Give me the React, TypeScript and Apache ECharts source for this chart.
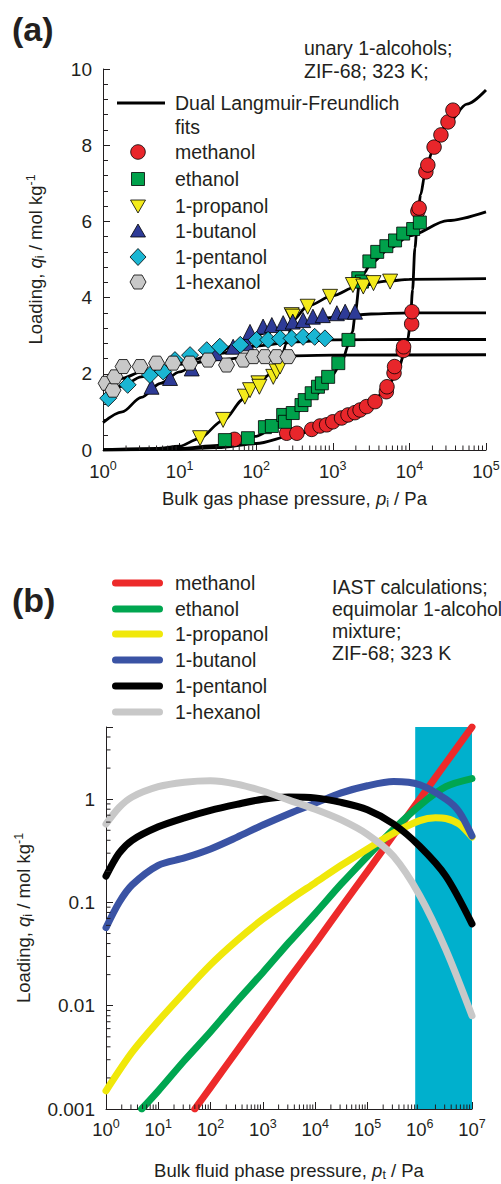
import React, { useEffect, useRef } from "react";
import * as echarts from "echarts";

const FONT = "'Liberation Sans', Arial, Helvetica, sans-serif";
const INK = "#231f20";

// ---------- Panel (a): unary isotherms, [pressure / Pa, loading / mol kg-1] ----------
const methanolPts = [
  [52, 0.28], [250, 0.44], [340, 0.44], [530, 0.54], [680, 0.63], [830, 0.66], [1000, 0.74],
  [1300, 0.84], [1580, 0.92], [1940, 0.98], [2270, 1.05], [2760, 1.14], [3560, 1.27],
  [5000, 1.53], [5100, 1.66], [6300, 2.02], [6400, 2.19], [8300, 2.61], [8400, 2.71],
  [10700, 3.31], [10800, 3.63], [12900, 6.27], [13400, 6.35], [16400, 7.3], [17400, 7.48],
  [21000, 7.95], [25800, 8.27], [31900, 8.61], [37000, 8.92],
];
const ethanolPts = [
  [39, 0.26], [78, 0.31], [130, 0.6], [160, 0.63], [225, 0.92], [237, 0.74], [300, 0.97],
  [390, 1.18], [430, 1.31], [530, 1.49], [640, 1.66], [720, 1.75], [870, 1.92], [1180, 2.28],
  [1600, 2.89], [2150, 4.51], [2400, 4.42], [3000, 4.95], [3800, 5.2], [5000, 5.35],
  [6500, 5.5], [8300, 5.68], [11200, 5.8], [13700, 5.97],
];
const propanolPts = [
  [18.5, 0.31], [37, 0.79], [71, 1.4], [83, 1.57], [107, 1.75], [110, 1.66], [167, 1.92],
  [185, 2.06], [205, 2.19], [290, 3.54], [300, 3.5], [470, 3.76], [920, 4.02], [1830, 4.33],
  [2500, 4.29], [3400, 4.38], [5600, 4.42],
];
const butanolPts = [
  [4.3, 1.66], [7.5, 1.89], [14.4, 2.14], [30, 2.54], [50, 2.71], [75, 2.8], [83, 3.1],
  [123, 3.24], [160, 3.28], [225, 3.33], [300, 3.37], [410, 3.41], [550, 3.5], [740, 3.54],
  [1130, 3.59], [1450, 3.63], [1950, 3.63],
];
const pentanolPts = [
  [1.17, 1.36], [2.1, 1.71], [4.1, 1.97], [6.1, 2.06], [8.7, 2.36], [13.7, 2.49], [22.6, 2.62],
  [33.5, 2.71], [62, 2.76], [101, 2.89], [143, 2.89], [205, 2.93], [290, 2.93], [410, 2.97],
  [580, 2.97], [790, 2.93],
];
const hexanolPts = [
  [1.1, 1.75], [1.35, 1.57], [1.43, 1.92], [1.83, 2.19], [3.05, 2.19], [5, 2.28], [8.2, 2.28],
  [13.6, 2.28], [23.5, 2.36], [41, 2.23], [68, 2.36], [92, 2.45], [130, 2.45], [185, 2.45],
  [260, 2.45],
];

// Dual Langmuir-Freundlich fits
const fitMethanol = [
  [1, 0], [10, 0.02], [31.6, 0.06], [100, 0.17], [316, 0.39], [1000, 0.72], [2000, 0.98],
  [3160, 1.22], [5000, 1.6], [7000, 2.05], [8500, 2.5], [9500, 2.9], [10200, 3.25], [11000, 4.2],
  [11800, 5.3], [12800, 6.1], [14000, 6.7], [16000, 7.25], [20000, 7.85], [31600, 8.58],
  [56200, 9.08], [100000, 9.45],
];
const fitEthanol = [
  [1, 0], [3.16, 0.01], [10, 0.04], [31.6, 0.12], [100, 0.36], [178, 0.6], [316, 0.95],
  [562, 1.4], [1000, 1.98], [1330, 2.35], [1600, 2.75], [1800, 3.1], [2000, 3.7], [2200, 4.3],
  [2500, 4.62], [3160, 4.9], [5620, 5.3], [10000, 5.62], [31600, 6.02], [100000, 6.25],
];
const fitPropanol = [
  [1, 0.01], [5, 0.04], [10, 0.1], [18, 0.3], [37, 0.78], [70, 1.35], [100, 1.7], [150, 1.98],
  [200, 2.25], [250, 2.8], [300, 3.4], [470, 3.78], [1000, 4.05], [2000, 4.28], [5000, 4.43],
  [10000, 4.48], [100000, 4.5],
];
const fitButanol = [
  [1, 0.72], [1.78, 1.0], [3.16, 1.38], [5.62, 1.75], [10, 2.05], [17.8, 2.3], [31.6, 2.55],
  [56.2, 2.8], [100, 3.02], [178, 3.18], [316, 3.3], [1000, 3.48], [3160, 3.57], [10000, 3.6],
  [100000, 3.6],
];
const fitPentanol = [
  [1, 1.4], [1.78, 1.68], [3.16, 1.92], [5.62, 2.1], [10, 2.27], [31.6, 2.53], [100, 2.73],
  [316, 2.84], [1000, 2.89], [10000, 2.9], [100000, 2.9],
];
const fitHexanol = [
  [1, 1.65], [1.78, 1.88], [3.16, 2.05], [5.62, 2.17], [10, 2.25], [31.6, 2.37], [100, 2.45],
  [1000, 2.49], [100000, 2.5],
];

// ---------- Panel (b): IAST, [bulk fluid pressure / Pa, loading / mol kg-1] ----------
const iastMethanol = [
  [50, 0.001], [100, 0.00162], [316, 0.00363], [1000, 0.0081], [3160, 0.0182], [10000, 0.04],
  [31600, 0.09], [100000, 0.2], [316000, 0.45], [1000000, 1.0], [3160000, 2.24], [10000000, 5.0],
];
const iastEthanol = [
  [4.8, 0.001], [10, 0.0015], [31.6, 0.00295], [100, 0.0056], [316, 0.011], [1000, 0.021],
  [3160, 0.041], [10000, 0.078], [31600, 0.151], [100000, 0.28], [316000, 0.51], [1000000, 0.87],
  [3160000, 1.32], [10000000, 1.58],
];
const iastPropanol = [
  [1, 0.0015], [3.16, 0.00355], [10, 0.0071], [31.6, 0.0135], [100, 0.025], [316, 0.0427],
  [1000, 0.069], [3160, 0.105], [10000, 0.155], [31600, 0.229], [100000, 0.33], [316000, 0.47],
  [1000000, 0.62], [2000000, 0.66], [3160000, 0.65], [5620000, 0.575], [10000000, 0.43],
];
const iastButanol = [
  [1, 0.057], [1.78, 0.1], [3.16, 0.148], [10, 0.229], [31.6, 0.27], [100, 0.33], [316, 0.427],
  [1000, 0.562], [3160, 0.724], [10000, 0.912], [31600, 1.15], [100000, 1.35], [316000, 1.48],
  [1000000, 1.38], [3160000, 1.0], [5620000, 0.76], [10000000, 0.44],
];
const iastPentanol = [
  [1, 0.18], [1.78, 0.3], [3.16, 0.4], [10, 0.54], [31.6, 0.66], [100, 0.78], [316, 0.89],
  [1000, 1.0], [3160, 1.05], [10000, 1.03], [31600, 0.93], [100000, 0.79], [316000, 0.575],
  [1000000, 0.35], [3160000, 0.18], [10000000, 0.062],
];
const iastHexanol = [
  [1, 0.575], [1.78, 0.83], [3.16, 1.05], [10, 1.32], [31.6, 1.46], [100, 1.51], [316, 1.4],
  [1000, 1.2], [3160, 0.98], [10000, 0.8], [31600, 0.63], [100000, 0.457], [316000, 0.28],
  [1000000, 0.117], [3160000, 0.035], [10000000, 0.008],
];
const shadedBand = [820000, 10000000];

// ---------- axis extents ----------
const A_X = [1, 100000];
const A_Y = [0, 10];
const B_X = [1, 10000000];
const B_Y = [0.001, 5];

const topSeriesStyle = [
  { name: "methanol", pts: methanolPts, fit: fitMethanol, color: "#e8262b", symbol: "circle", size: 14.5, rotate: 0 },
  { name: "ethanol", pts: ethanolPts, fit: fitEthanol, color: "#00a14b", symbol: "rect", size: 13, rotate: 0 },
  { name: "1-propanol", pts: propanolPts, fit: fitPropanol, color: "#f4eb1b", symbol: "triangle", size: 15, rotate: 180 },
  { name: "1-butanol", pts: butanolPts, fit: fitButanol, color: "#2e3b97", symbol: "triangle", size: 15, rotate: 0 },
  { name: "1-pentanol", pts: pentanolPts, fit: fitPentanol, color: "#1ab6d3", symbol: "diamond", size: 17, rotate: 0 },
  { name: "1-hexanol", pts: hexanolPts, fit: fitHexanol, color: "#c8c8c8", symbol: "path://M0,7L4,0L12,0L16,7L12,14L4,14Z", size: [16, 14], rotate: 0 },
];

const bottomSeriesStyle = [
  { name: "methanol", data: iastMethanol, color: "#ed2a2a" },
  { name: "ethanol", data: iastEthanol, color: "#00a650" },
  { name: "1-propanol", data: iastPropanol, color: "#f0e80a" },
  { name: "1-butanol", data: iastButanol, color: "#3a53a4" },
  { name: "1-pentanol", data: iastPentanol, color: "#000000" },
  { name: "1-hexanol", data: iastHexanol, color: "#c8c8c8" },
];

function logMinor(fromExp: number, toExp: number, maxVal: number) {
  const out: number[] = [];
  for (let e = fromExp; e < toExp; e++) {
    for (let m = 2; m <= 9; m++) {
      const v = m * Math.pow(10, e);
      if (v < maxVal) out.push(v);
    }
  }
  return out;
}

const textBase = { fontFamily: FONT, color: INK };
const powLabel = (v: number) => {
  const l = Math.log10(v);
  const e = Math.round(l);
  if (Math.abs(l - e) > 1e-6) return "";
  return `{b|10}{s|${e}}`;
};
const powRich = {
  b: { ...textBase, fontSize: 18.5, lineHeight: 24 },
  s: { ...textBase, fontSize: 12.5, lineHeight: 12.5, verticalAlign: "top" },
};
const nameRich = {
  t: { ...textBase, fontSize: 18.5, lineHeight: 22 },
  it: { ...textBase, fontSize: 18.5, lineHeight: 22, fontStyle: "italic" },
  sub: { ...textBase, fontSize: 12.5, lineHeight: 12.5, verticalAlign: "bottom" },
  sup: { ...textBase, fontSize: 12.5, lineHeight: 12.5, verticalAlign: "top" },
};

function tickSeries(xi: number, vals: number[], fixed: number, dir: "x" | "y", len: number) {
  return {
    type: "custom",
    xAxisIndex: xi,
    yAxisIndex: xi,
    silent: true,
    clip: false,
    z: 6,
    data: vals.map((v) => (dir === "x" ? [v, fixed] : [fixed, v])),
    renderItem: (params: any, api: any) => {
      const p = api.coord([api.value(0), api.value(1)]);
      const shape =
        dir === "x"
          ? { x1: p[0], y1: p[1], x2: p[0], y2: p[1] - len }
          : { x1: p[0], y1: p[1], x2: p[0] + len, y2: p[1] };
      return { type: "line", shape, style: { stroke: INK, lineWidth: 1 } };
    },
  };
}

export default function App() {
  const ref = useRef<HTMLDivElement>(null);
  useEffect(() => {
    document.body.style.margin = "0";
    const chart = echarts.init(ref.current!, undefined, { renderer: "svg" });

    const series: any[] = [];
    series.push({
      type: "custom",
      xAxisIndex: 1,
      yAxisIndex: 1,
      silent: true,
      z: 1,
      data: [shadedBand],
      renderItem: (params: any, api: any) => {
        const a = api.coord([api.value(0), B_Y[1]]);
        const b = api.coord([api.value(1), B_Y[0]]);
        return {
          type: "rect",
          shape: { x: a[0], y: a[1], width: b[0] - a[0], height: b[1] - a[1] },
          style: { fill: "#00b0cd" },
        };
      },
    });
    topSeriesStyle.forEach((s) => {
      series.push({
        type: "line",
        name: s.name + " fit",
        xAxisIndex: 0,
        yAxisIndex: 0,
        data: s.fit,
        showSymbol: false,
        smooth: 0.3,
        smoothMonotone: "x",
        lineStyle: { color: "#000", width: 2.8 },
        z: 2,
        silent: true,
      });
    });
    topSeriesStyle.forEach((s) => {
      series.push({
        type: "scatter",
        name: s.name,
        xAxisIndex: 0,
        yAxisIndex: 0,
        data: s.pts,
        symbol: s.symbol,
        symbolSize: s.size,
        symbolRotate: s.rotate,
        itemStyle: { color: s.color, borderColor: "#000", borderWidth: 0.8, opacity: 1 },
        z: 3,
        silent: true,
      });
    });
    bottomSeriesStyle.forEach((s) => {
      series.push({
        type: "line",
        name: s.name,
        xAxisIndex: 1,
        yAxisIndex: 1,
        data: s.data,
        showSymbol: false,
        smooth: 0.3,
        lineStyle: { color: s.color, width: 7, cap: "round", join: "round" },
        z: 3,
        silent: true,
      });
    });
    series.push(tickSeries(0, logMinor(0, 5, 1e5), A_Y[0], "x", 4.5));
    series.push(tickSeries(1, logMinor(0, 7, 1e7), B_Y[0], "x", 4.5));
    series.push(tickSeries(1, logMinor(-3, 1, B_Y[1]), B_X[0], "y", 4.5));

    const txt = (text: string, x: number, y: number, size = 19.5, extra: any = {}) => ({
      type: "text",
      x,
      y,
      silent: true,
      style: { text, fontFamily: FONT, fontSize: size, fill: INK, verticalAlign: "middle", ...extra },
    });

    const legendA: any[] = [
      { type: "line", silent: true, shape: { x1: 117, y1: 103, x2: 165, y2: 103 }, style: { stroke: "#000", lineWidth: 3 } },
      txt("Dual Langmuir-Freundlich", 175, 103),
      txt("fits", 175, 127),
    ];
    const ly = [152, 179, 206, 231, 257, 282];
    const cx = 138;
    const markerShapes = [
      { type: "circle", shape: { cx, cy: ly[0], r: 7.3 } },
      { type: "rect", shape: { x: cx - 6.5, y: ly[1] - 6.5, width: 13, height: 13 } },
      { type: "polygon", shape: { points: [[cx - 7.5, ly[2] - 6], [cx + 7.5, ly[2] - 6], [cx, ly[2] + 7]] } },
      { type: "polygon", shape: { points: [[cx - 7.5, ly[3] + 6], [cx + 7.5, ly[3] + 6], [cx, ly[3] - 7]] } },
      { type: "polygon", shape: { points: [[cx, ly[4] - 8.5], [cx + 8, ly[4]], [cx, ly[4] + 8.5], [cx - 8, ly[4]]] } },
      { type: "polygon", shape: { points: [[cx + 8, ly[5]], [cx + 4, ly[5] - 7], [cx - 4, ly[5] - 7], [cx - 8, ly[5]], [cx - 4, ly[5] + 7], [cx + 4, ly[5] + 7]] } },
    ];
    topSeriesStyle.forEach((s, i) => {
      legendA.push({ ...markerShapes[i], silent: true, style: { fill: s.color, stroke: "#000", lineWidth: 0.8 } });
      legendA.push(txt(s.name, 175, ly[i]));
    });

    const legendB: any[] = [];
    const lyb = [583, 609, 634, 660, 686, 712];
    bottomSeriesStyle.forEach((s, i) => {
      legendB.push({
        type: "line",
        silent: true,
        shape: { x1: 115.5, y1: lyb[i], x2: 159.5, y2: lyb[i] },
        style: { stroke: s.color, lineWidth: 7, lineCap: "round" },
      });
      legendB.push(txt(s.name, 175, lyb[i]));
    });

    const option: any = {
      animation: false,
      backgroundColor: "#ffffff",
      grid: [
        { left: 103, top: 69, width: 383, height: 381, outerBoundsMode: "none", containLabel: false },
        { left: 106, top: 727, width: 366, height: 382, outerBoundsMode: "none", containLabel: false },
      ],
      xAxis: [
        {
          gridIndex: 0,
          type: "log",
          logBase: 10,
          min: A_X[0],
          max: A_X[1],
          axisLine: { lineStyle: { color: INK, width: 1 } },
          axisTick: { inside: true, length: 7, lineStyle: { color: INK } },
          splitLine: { show: false },
          axisLabel: { formatter: powLabel, rich: powRich, margin: 9, showMinLabel: true, showMaxLabel: true, hideOverlap: false },
          name: "{t|Bulk gas phase pressure, }{it|p}{sub|i}{t| / Pa}",
          nameLocation: "middle",
          nameGap: 37,
          nameMoveOverlap: false,
          nameTextStyle: { rich: nameRich },
        },
        {
          gridIndex: 1,
          type: "log",
          logBase: 10,
          min: B_X[0],
          max: B_X[1],
          axisLine: { lineStyle: { color: INK, width: 1 } },
          axisTick: { inside: true, length: 7, lineStyle: { color: INK } },
          splitLine: { show: false },
          axisLabel: { formatter: powLabel, rich: powRich, margin: 8, showMinLabel: true, showMaxLabel: true, hideOverlap: false },
          name: "{t|Bulk fluid phase pressure, }{it|p}{sub|t}{t| / Pa}",
          nameLocation: "middle",
          nameGap: 50,
          nameMoveOverlap: false,
          nameTextStyle: { rich: nameRich },
        },
      ],
      yAxis: [
        {
          gridIndex: 0,
          type: "value",
          min: A_Y[0],
          max: A_Y[1],
          interval: 2,
          axisLine: { show: true, lineStyle: { color: INK, width: 1 } },
          axisTick: { show: true, inside: true, length: 7, lineStyle: { color: INK } },
          minorTick: { show: true, splitNumber: 5, length: 5, lineStyle: { color: INK } },
          splitLine: { show: false },
          axisLabel: { ...textBase, fontSize: 19, margin: 11 },
          name: "{t|Loading, }{it|q}{sub|i}{t| / mol kg}{sup|-1}",
          nameLocation: "middle",
          nameGap: 57,
          nameMoveOverlap: false,
          nameTextStyle: { rich: nameRich },
        },
        {
          gridIndex: 1,
          type: "log",
          logBase: 10,
          min: B_Y[0],
          max: B_Y[1],
          axisLine: { show: true, lineStyle: { color: INK, width: 1 } },
          axisTick: { show: true, inside: true, length: 7, lineStyle: { color: INK } },
          splitLine: { show: false },
          axisLabel: {
            ...textBase,
            fontSize: 19,
            margin: 11,
            showMaxLabel: true,
            formatter: (v: number) => {
              const l = Math.log10(v);
              const e = Math.round(l);
              if (Math.abs(l - e) > 1e-6) return "";
              return e >= 0 ? String(Math.pow(10, e)) : "0." + "0".repeat(-e - 1) + "1";
            },
          },
          name: "{t|Loading, }{it|q}{sub|i}{t| / mol kg}{sup|-1}",
          nameLocation: "middle",
          nameGap: 72,
          nameMoveOverlap: false,
          nameTextStyle: { rich: nameRich },
        },
      ],
      series,
      graphic: [
        txt("(a)", 12, 29, 34, { fontWeight: "bold" }),
        txt("unary 1-alcohols;", 304, 48),
        txt("ZIF-68; 323 K;", 304, 71),
        ...legendA,
        txt("(b)", 12, 600, 34, { fontWeight: "bold" }),
        txt("IAST calculations;", 332, 587),
        txt("equimolar 1-alcohol", 332, 609),
        txt("mixture;", 332, 631),
        txt("ZIF-68; 323 K", 332, 653),
        ...legendB,
      ],
    };
    chart.setOption(option);
    return () => chart.dispose();
  }, []);
  return <div ref={ref} style={{ width: 501, height: 1184 }} />;
}
